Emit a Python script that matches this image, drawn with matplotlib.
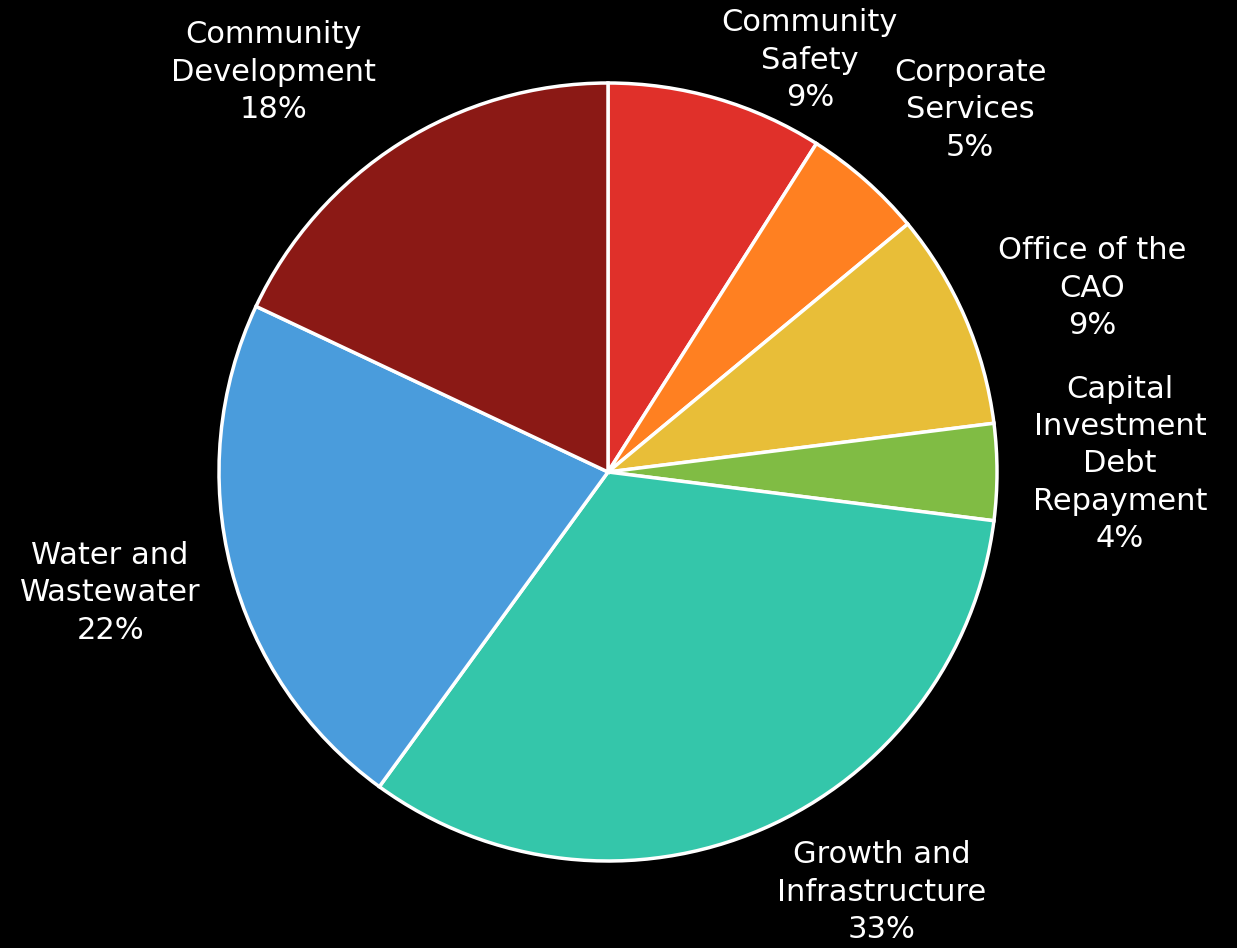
import matplotlib
matplotlib.use("Agg")
import matplotlib.pyplot as plt

# budget shares, clockwise from the top
labels = ["Community\nSafety", "Corporate\nServices", "Office of the\nCAO",
          "Capital\nInvestment\nDebt\nRepayment", "Growth and\nInfrastructure",
          "Water and\nWastewater", "Community\nDevelopment"]
shares = [9, 5, 9, 4, 33, 22, 18]
colors = ["#E0302A", "#FF8021", "#E8BE38", "#80BC44", "#34C6AA", "#4A9CDC", "#8B1915"]

# where each label sits (centre of the text block, pie radius = 1)
label_xy = [(0.519, 1.059), (0.931, 0.931), (1.244, 0.473), (1.316, 0.021),
            (0.704, -1.080), (-1.280, -0.311), (-0.861, 1.028)]

W, H, dpi = 1237, 948, 100
cx, cy, r = 608, 472, 389

fig = plt.figure(figsize=(W / dpi, H / dpi), dpi=dpi, facecolor="black")
ax = fig.add_axes([0, 0, 1, 1])
ax.set_facecolor("black")

wedges, _ = ax.pie(shares, colors=colors, startangle=90, counterclock=False,
                   wedgeprops=dict(edgecolor="white", linewidth=2.5))

for lab, val, (x, y) in zip(labels, shares, label_xy):
    ax.text(x, y, "%s\n%d%%" % (lab, val), ha="center", va="center",
            color="white", fontsize=22, family="DejaVu Sans",
            linespacing=1.36)

ax.set_xlim(-cx / r, (W - cx) / r)
ax.set_ylim((cy - H) / r, cy / r)
ax.set_aspect("auto")
ax.axis("off")

fig.savefig("out.png", dpi=dpi, facecolor="black")
